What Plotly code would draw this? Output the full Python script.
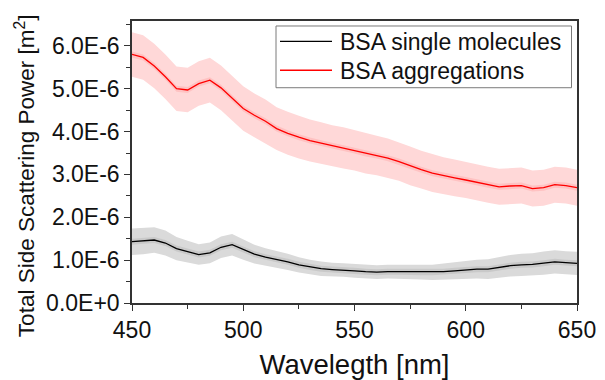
import plotly.graph_objects as go

# ---- data (values in units of 1E-6 m^2) ----
wavelength = list(range(450, 651, 5))

agg_mean = [5.80, 5.73, 5.53, 5.28, 5.00, 4.97, 5.12, 5.20, 5.02, 4.78,
            4.54, 4.38, 4.24, 4.07, 3.96, 3.87, 3.79, 3.73, 3.67, 3.62,
            3.56, 3.49, 3.44, 3.38, 3.30, 3.20, 3.11, 3.03, 2.97, 2.92,
            2.87, 2.82, 2.76, 2.71, 2.73, 2.74, 2.67, 2.69, 2.76, 2.74, 2.69]
agg_err = [0.52, 0.52, 0.52, 0.52, 0.52, 0.52, 0.52, 0.52, 0.52, 0.52,
           0.52, 0.51, 0.51, 0.50, 0.50, 0.50, 0.49, 0.49, 0.48, 0.48,
           0.47, 0.47, 0.46, 0.46, 0.45, 0.45, 0.44, 0.44, 0.43, 0.43,
           0.42, 0.42, 0.42, 0.42, 0.42, 0.42, 0.42, 0.42, 0.42, 0.42, 0.42]

single_mean = [1.43, 1.45, 1.47, 1.40, 1.27, 1.20, 1.13, 1.17, 1.30, 1.36,
               1.25, 1.14, 1.07, 1.02, 0.96, 0.89, 0.84, 0.80, 0.78, 0.77,
               0.75, 0.73, 0.72, 0.73, 0.73, 0.73, 0.72, 0.715, 0.73, 0.75,
               0.77, 0.79, 0.79, 0.83, 0.87, 0.89, 0.90, 0.93, 0.96, 0.94, 0.925]
single_err = [0.31, 0.31, 0.30, 0.29, 0.27, 0.25, 0.24, 0.24, 0.25, 0.25,
              0.24, 0.22, 0.21, 0.20, 0.19, 0.18, 0.17, 0.17, 0.16, 0.16,
              0.16, 0.16, 0.16, 0.16, 0.16, 0.17, 0.17, 0.18, 0.19, 0.20,
              0.21, 0.22, 0.23, 0.24, 0.25, 0.26, 0.26, 0.27, 0.27, 0.27, 0.27]

inner_halo = 0.07

series_names = ["BSA single molecules", "BSA aggregations"]
ytick_vals = [0, 1, 2, 3, 4, 5, 6]
ytick_text = ["0.0E+0", "1.0E-6", "2.0E-6", "3.0E-6", "4.0E-6", "5.0E-6", "6.0E-6"]
xtick_vals = [450, 500, 550, 600, 650]

SC = 1e-6
FONT = "Arial, Liberation Sans, sans-serif"

fig = go.Figure()


def add_band(mean, err, color):
    up = [(m + e) * SC for m, e in zip(mean, err)]
    lo = [(m - e) * SC for m, e in zip(mean, err)]
    fig.add_trace(go.Scatter(x=wavelength + wavelength[::-1], y=up + lo[::-1],
                             fill="toself", fillcolor=color, line=dict(width=0),
                             mode="lines", hoverinfo="skip", showlegend=False))


add_band(agg_mean, agg_err, "#FFD8D8")
add_band(agg_mean, [inner_halo] * len(agg_mean), "#FFC2C2")
add_band(single_mean, single_err, "#DADADA")
add_band(single_mean, [inner_halo] * len(single_mean), "#C9C9C9")

fig.add_trace(go.Scatter(x=wavelength, y=[v * SC for v in single_mean], mode="lines",
                         line=dict(color="#000000", width=1.3), name=series_names[0],
                         showlegend=False))
fig.add_trace(go.Scatter(x=wavelength, y=[v * SC for v in agg_mean], mode="lines",
                         line=dict(color="#FF0000", width=1.3), name=series_names[1],
                         showlegend=False))

# plot area in window pixels: x 132..577, y 20.7..303 (page body adds 8px offset)
X0, X1, Y0, Y1 = 132, 577, 20.7, 303


def px(x):
    return (x - X0) / (X1 - X0)


def py(y):
    return (Y1 - y) / (Y1 - Y0)


# custom legend
fig.add_shape(type="rect", xref="paper", yref="paper",
              x0=px(276), x1=px(571.5), y0=py(87.5), y1=py(25.7),
              line=dict(color="#7a7a7a", width=1), fillcolor="white", layer="above")
for i, (name, col) in enumerate(zip(series_names, ["#000000", "#FF0000"])):
    yy = [41, 70][i]
    fig.add_shape(type="line", xref="paper", yref="paper",
                  x0=px(280), x1=px(332), y0=py(yy), y1=py(yy),
                  line=dict(color=col, width=1.3), layer="above")
    fig.add_annotation(xref="paper", yref="paper", x=px(338), y=py(yy + 1),
                       text=name, showarrow=False, xanchor="left", yanchor="middle",
                       font=dict(family=FONT, size=23, color="#111111"))

# y-axis title as annotation
fig.add_annotation(xref="paper", yref="paper", x=px(25), y=py(176),
                   text="Total Side Scattering Power [m<sup>2</sup>]", textangle=-90,
                   showarrow=False, xanchor="center", yanchor="middle",
                   font=dict(family=FONT, size=22.5, color="#111111"))

axis_common = dict(showgrid=False, zeroline=False, showline=True, linecolor="#333333",
                   linewidth=1.5, mirror=True, ticks="outside", ticklen=6, tickwidth=1.3,
                   tickcolor="#333333", automargin=False,
                   tickfont=dict(family=FONT, size=23, color="#111111"))

fig.update_xaxes(range=[450, 650], tickvals=xtick_vals,
                 minor=dict(ticks="outside", ticklen=4, tickwidth=1.2, tickcolor="#333333",
                            dtick=25, tick0=450),
                 title=dict(text="Wavelegth [nm]", font=dict(family=FONT, size=27.5, color="#111111"),
                            standoff=14),
                 **axis_common)
fig.update_yaxes(range=[0, 6.58 * SC], tickvals=[v * SC for v in ytick_vals], ticktext=ytick_text,
                 minor=dict(ticks="outside", ticklen=4, tickwidth=1.2, tickcolor="#333333",
                            tickvals=[v * SC for v in [0.5, 1.5, 2.5, 3.5, 4.5, 5.5, 6.5]]),
                 **axis_common)

fig.update_layout(width=597, height=372, margin=dict(l=124, r=28, t=12.7, b=77),
                  plot_bgcolor="white", paper_bgcolor="white", showlegend=False)

fig.write_html("out.html")
